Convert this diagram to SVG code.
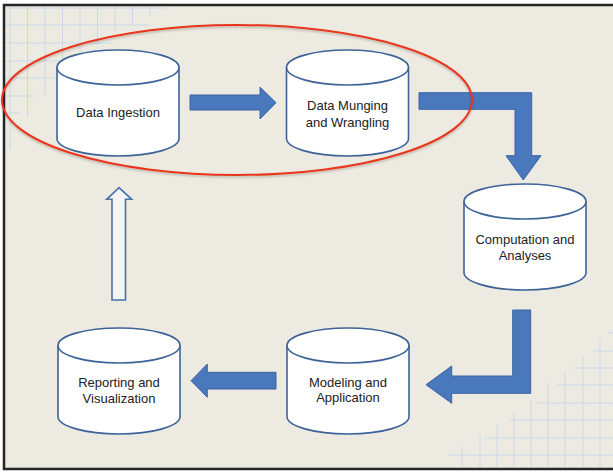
<svg xmlns="http://www.w3.org/2000/svg" width="613" height="474" viewBox="0 0 613 474">
<style>
.bg{fill:#edebe1}
.frame{fill:none;stroke:#262626;stroke-width:2.5}
.grid line{stroke:#cad7e7;stroke-width:1}
.cylbody{fill:#ffffff;stroke:#3d6399;stroke-width:1.6}
.cylrim{fill:none;stroke:#3d6399;stroke-width:1.6}
.lbl{font-family:"Liberation Sans",Arial,Helvetica,sans-serif;font-size:13px;fill:#222;text-anchor:middle}
.arrow{fill:#4a78bd;stroke:#3b65a3;stroke-width:1}
.hollow{fill:#f4f4f2;stroke:#4a72ad;stroke-width:1.6}
.ring{fill:none;stroke:#e8361e;stroke-width:2}
</style>
<defs>
<filter id="sh" x="-10%" y="-10%" width="120%" height="130%">
<feDropShadow dx="0" dy="1.5" stdDeviation="1.2" flood-color="#000" flood-opacity="0.25"/>
</filter>
<g id="cylShape">
<path class="cylbody" fill="#ffffff" stroke="#3d6399" stroke-width="1.6" d="M0,17.5 A61,17.5 0 0 1 122,17.5 V88.5 A61,17.5 0 0 1 0,88.5 Z"/>
<path class="cylrim" fill="none" stroke="#3d6399" stroke-width="1.6" d="M0,17.5 A61,17.5 0 0 0 122,17.5"/>
</g>
</defs>
<rect x="0" y="0" width="613" height="474" fill="#ffffff"/>
<rect class="bg" x="4" y="5" width="612" height="464"/>
<g class="grid" id="grid-tl">
<line x1="10" y1="5" x2="10" y2="150"/>
<line x1="27.5" y1="5" x2="27.5" y2="118"/>
<line x1="45" y1="5" x2="45" y2="95"/>
<line x1="62.5" y1="5" x2="62.5" y2="72"/>
<line x1="80" y1="5" x2="80" y2="58"/>
<line x1="97.5" y1="5" x2="97.5" y2="45"/>
<line x1="115" y1="5" x2="115" y2="32"/>
<line x1="132.5" y1="5" x2="132.5" y2="24"/>
<line x1="150" y1="5" x2="150" y2="16"/>
<line x1="4" y1="8" x2="165" y2="8"/>
<line x1="4" y1="25" x2="150" y2="25"/>
<line x1="4" y1="43" x2="112" y2="43"/>
<line x1="4" y1="61" x2="85" y2="61"/>
<line x1="4" y1="78" x2="55" y2="78"/>
<line x1="4" y1="96" x2="35" y2="96"/>
<line x1="4" y1="113" x2="20" y2="113"/>
</g>
<g class="grid" id="grid-br">
<line x1="462" y1="447" x2="462" y2="469"/>
<line x1="480" y1="434" x2="480" y2="469"/>
<line x1="497" y1="425" x2="497" y2="469"/>
<line x1="514" y1="412" x2="514" y2="469"/>
<line x1="531" y1="400" x2="531" y2="469"/>
<line x1="548" y1="383" x2="548" y2="469"/>
<line x1="565" y1="372" x2="565" y2="469"/>
<line x1="583" y1="357" x2="583" y2="469"/>
<line x1="600" y1="338" x2="600" y2="469"/>
<line x1="448" y1="455" x2="613" y2="455"/>
<line x1="485" y1="438" x2="613" y2="438"/>
<line x1="510" y1="420" x2="613" y2="420"/>
<line x1="537" y1="403" x2="613" y2="403"/>
<line x1="557" y1="385" x2="613" y2="385"/>
<line x1="575" y1="368" x2="613" y2="368"/>
<line x1="593" y1="351" x2="613" y2="351"/>
<line x1="608" y1="333" x2="613" y2="333"/>
</g>
<rect class="frame" x="4" y="5" width="620" height="464"/>
<g id="connectors">
<polygon class="arrow" points="190,95 260,95 260,87 276,102.7 260,119 260,110 190,110"/>
<polygon class="arrow" points="419,92.7 531.7,92.7 531.7,155.7 541,155.7 523.3,180 506,155.7 515,155.7 515,109.3 419,109.3"/>
<polygon class="arrow" points="512.7,310 530.7,310 530.7,393.3 451.7,393.3 451.7,403.3 426,384.7 451.7,366 451.7,376 512.7,376"/>
<polygon class="arrow" points="276,372.3 207.3,372.3 207.3,364 191,380.7 207.3,397.3 207.3,389 276,389"/>
<polygon class="hollow" points="112,300 112,199.3 106.7,199.3 119,187.7 131.7,199.3 125.5,199.3 125.5,300"/>
</g>
<g id="node-ingestion" transform="translate(57,50)">
<use href="#cylShape"/>
<text class="lbl" x="61" y="67">Data Ingestion</text>
</g>
<g id="node-munging" transform="translate(286.5,50)">
<use href="#cylShape"/>
<text class="lbl" x="61" y="60">Data Munging</text>
<text class="lbl" x="61" y="76.5">and Wrangling</text>
</g>
<g id="node-computation" transform="translate(464,184)">
<use href="#cylShape"/>
<text class="lbl" x="61" y="60">Computation and</text>
<text class="lbl" x="61" y="76">Analyses</text>
</g>
<g id="node-modeling" transform="translate(287,328)">
<use href="#cylShape"/>
<text class="lbl" x="61" y="58.5">Modeling and</text>
<text class="lbl" x="61" y="74">Application</text>
</g>
<g id="node-reporting" transform="translate(58,328)">
<use href="#cylShape"/>
<text class="lbl" x="61" y="59">Reporting and</text>
<text class="lbl" x="61" y="75">Visualization</text>
</g>
<g id="highlight">
<ellipse class="ring" cx="237" cy="100" rx="235" ry="75" filter="url(#sh)"/>
</g>
</svg>
